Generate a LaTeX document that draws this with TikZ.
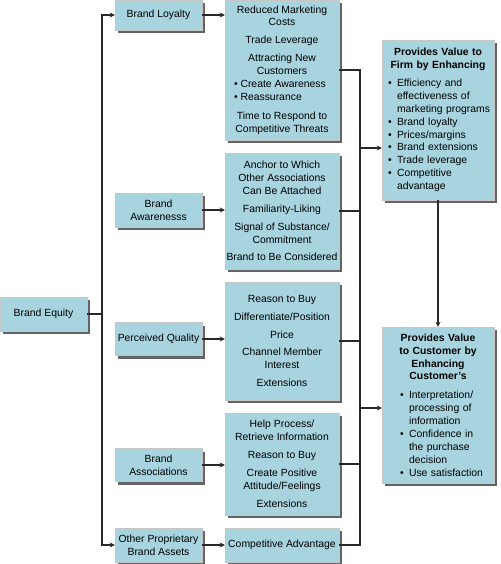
\documentclass[tikz,border=0pt]{standalone}
\usepackage{fontspec}
\setmainfont{Liberation Sans}
\usetikzlibrary{shadows,arrows.meta,calc}
\definecolor{boxblue}{RGB}{168,212,224}
\definecolor{shadowgray}{RGB}{100,100,100}
\definecolor{linegray}{RGB}{40,40,40}
\newcommand\bu{\makebox[9pt][l]{\textbullet}}
\newcommand\ci{\hspace*{9pt}}
\newcommand\hd[1]{\makebox[104pt][c]{\bfseries #1}}
\begin{document}
\begin{tikzpicture}[x=1pt,y=-1pt,
  box/.style={draw=gray!45, line width=0.4pt, fill=boxblue, inner sep=0pt,
    align=center, font=\fontsize{10.4}{12.9}\selectfont,
    drop shadow={shadow xshift=3pt, shadow yshift=-3pt, fill=shadowgray, opacity=1}},
  lbox/.style={box, minimum width=87pt, minimum height=31pt},
  mbox/.style={box, minimum width=114pt},
  rbox/.style={box, minimum width=112pt, text width=104pt, align=left},
  conn/.style={draw=linegray, line width=1.6pt},
  arr/.style={conn, -{Stealth[length=5pt,width=5pt]}}]
\useasboundingbox (0,0) rectangle (500,564);
% left column
\node[lbox, minimum height=34pt] (eq) at (43.5,314) {Brand Equity};
\node[lbox, minimum height=30pt] (loy) at (158.5,15) {Brand Loyalty};
\node[lbox, minimum height=34pt] (aw) at (158.5,210) {Brand\\Awarenesss};
\node[lbox, minimum height=33pt] (pq) at (158.5,339) {Perceived Quality};
\node[lbox, minimum height=33pt] (as) at (158.5,465) {Brand\\Associations};
\node[lbox, minimum height=34pt] (ot) at (158.5,545) {Other Proprietary\\Brand Assets};
% middle column
\node[mbox, minimum height=140pt] (m1) at (282,70) {Reduced Marketing\\Costs\\[5pt]Trade Leverage\\[5pt]Attracting New\\Customers\\\makebox[96pt][l]{\textbullet\ Create Awareness}\\\makebox[96pt][l]{\textbullet\ Reassurance}\\[6pt]Time to Respond to\\Competitive Threats};
\node[mbox, minimum height=116pt] (m2) at (282,211) {Anchor to Which\\Other Associations\\Can Be Attached\\[5pt]Familiarity-Liking\\[5pt]Signal of Substance/\\Commitment\\[5pt]Brand to Be Considered};
\node[mbox, minimum height=118pt] (m3) at (282,341) {Reason to Buy\\[5pt]Differentiate/Position\\[5pt]Price\\[5pt]Channel Member\\Interest\\[5pt]Extensions};
\node[mbox, minimum height=102pt] (m4) at (282,464) {Help Process/\\Retrieve Information\\[5pt]Reason to Buy\\[5pt]Create Positive\\Attitude/Feelings\\[5pt]Extensions};
\node[mbox, minimum height=34pt] (m5) at (282,545) {Competitive Advantage};
% right column
\node[rbox, minimum height=160pt] (firm) at (438,120) {\hd{Provides Value to}\\\hd{Firm by Enhancing}\\[5pt]\hspace*{2pt}\bu Efficiency and\\\hspace*{2pt}\ci effectiveness of\\\hspace*{2pt}\ci\mbox{marketing programs}\\\hspace*{2pt}\bu Brand loyalty\\\hspace*{2pt}\bu Prices/margins\\\hspace*{2pt}\bu Brand extensions\\\hspace*{2pt}\bu Trade leverage\\\hspace*{2pt}\bu Competitive\\\hspace*{2pt}\ci advantage};
\node[rbox, minimum height=156pt] (cust) at (438,405) {\hd{Provides Value}\\\hd{to Customer by}\\\hd{Enhancing}\\\hd{Customer’s}\\[6pt]\hspace*{14pt}\bu Interpretation/\\\hspace*{23pt}processing of\\\hspace*{23pt}information\\\hspace*{14pt}\bu Confidence in\\\hspace*{23pt}the purchase\\\hspace*{23pt}decision\\\hspace*{14pt}\bu Use satisfaction};
% left connectors
\draw[conn] (eq.east) -- ++(15,0) coordinate (ls);
\draw[arr] (ls) |- (loy.west);
\draw[arr] (ls) |- (ot.west);
\foreach \a/\b in {loy/m1, aw/m2, pq/m3, as/m4, ot/m5}
  \draw[arr] (\a.east) -- (\a.east -| \b.west);
% right connectors
\coordinate (rt) at (360,70);
\coordinate (rb) at (360,545);
\draw[conn, line join=miter] (m1.east) -| (rb) -- (m5.east);
\foreach \m in {m2,m3,m4}
  \draw[conn] (\m.east) -- (\m.east -| rt);
\coordinate (fa) at (360,148);
\coordinate (ca) at (360,408);
\draw[arr] (fa) -- (fa -| firm.west);
\draw[arr] (ca) -- (ca -| cust.west);
\draw[arr] (firm.south) -- (cust.north);
\end{tikzpicture}
\end{document}
